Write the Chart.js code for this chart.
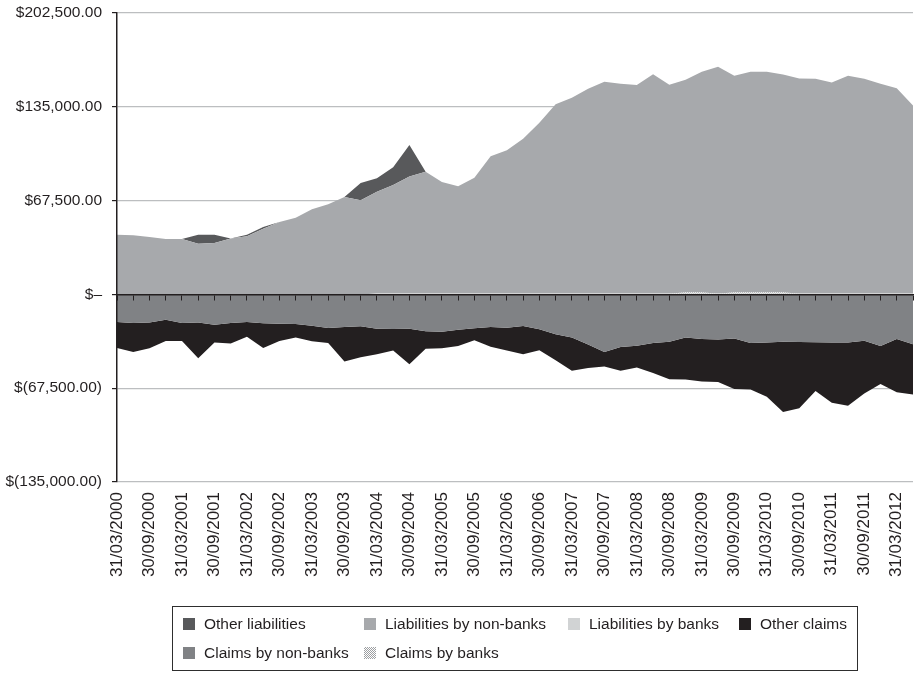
<!DOCTYPE html>
<html>
<head>
<meta charset="utf-8">
<script src="https://cdn.jsdelivr.net/npm/chart.js@4.4.1/dist/chart.umd.min.js"></script>
<style>
html,body{margin:0;padding:0;background:#fff;}
#wrap{position:relative;width:914px;height:675px;}
#c{position:absolute;left:0;top:0;}
#legend{position:absolute;left:172px;top:606px;width:684px;height:63px;border:1px solid #2e2e2e;
  font-family:'Liberation Sans',Arial,sans-serif;font-size:15.5px;color:#231f20;}
#legend .grid{position:absolute;left:10px;top:6px;display:grid;grid-template-columns:181px 204px 171px auto;row-gap:7px;}
#legend .item{display:flex;align-items:center;height:22px;white-space:nowrap;}
#legend .sw{width:12px;height:12px;margin-right:9px;flex:none;}
#legend .hatch{background:repeating-conic-gradient(#9d9fa2 0 25%,#ffffff 0 50%) 0 0/2px 2px;}
</style>
</head>
<body>
<div id="wrap">
<canvas id="c" width="914" height="675"></canvas>
<div id="legend"><div class="grid" id="lgrid"></div></div>
</div>
<script>
// ---- data ----
const quarters = [
 '31/03/2000','30/06/2000','30/09/2000','31/12/2000',
 '31/03/2001','30/06/2001','30/09/2001','31/12/2001',
 '31/03/2002','30/06/2002','30/09/2002','31/12/2002',
 '31/03/2003','30/06/2003','30/09/2003','31/12/2003',
 '31/03/2004','30/06/2004','30/09/2004','31/12/2004',
 '31/03/2005','30/06/2005','30/09/2005','31/12/2005',
 '31/03/2006','30/06/2006','30/09/2006','31/12/2006',
 '31/03/2007','30/06/2007','30/09/2007','31/12/2007',
 '31/03/2008','30/06/2008','30/09/2008','31/12/2008',
 '31/03/2009','30/06/2009','30/09/2009','31/12/2009',
 '31/03/2010','30/06/2010','30/09/2010','31/12/2010',
 '31/03/2011','30/06/2011','30/09/2011','31/12/2011',
 '31/03/2012','30/06/2012'
];
const otherLiabilities = [
 0,0,0,0,0,6500,6000,0,1200,1200,
 0,0,0,0,0,12500,9800,12700,22800,0,
 0,0,0,0,0,0,0,0,0,0,
 0,0,0,0,0,0,0,0,0,0,
 0,0,0,0,0,0,0,0,0,0
];
const liabilitiesNonBanks = [
 43000,42500,41300,39800,39800,36500,37000,40300,41800,47300,
 52100,55200,61200,64800,70100,67700,73200,78200,84200,87600,
 80200,77300,83300,98900,103200,111400,122900,136300,140900,147400,
 152400,151000,150000,157900,150200,153100,158900,163200,156000,158900,
 158900,157000,154800,154600,151900,156700,154600,151000,147800,135400
];
const liabilitiesBanks = [
 0,0,0,0,0,0,0,0,0,0,
 0,0,0,0,0,0,600,600,600,600,
 600,600,600,600,600,600,600,600,600,600,
 600,600,600,600,600,600,600,600,600,600,
 600,600,600,600,600,600,600,600,600,600
];
const otherClaims = [
 -18600,-20800,-18500,-15300,-12900,-25700,-12900,-14800,-10500,-17700,
 -12400,-9800,-11200,-10700,-24900,-22200,-18400,-15500,-25600,-12600,
 -12000,-11700,-8600,-14200,-16300,-20400,-15100,-18700,-23900,-16800,
 -10500,-17200,-15700,-21600,-27000,-30100,-30600,-30500,-36200,-33500,
 -39000,-50700,-47700,-35100,-43300,-45500,-38000,-27300,-38300,-36100
];
const claimsNonBanks = [
 -19900,-20600,-20300,-18200,-20600,-20300,-21800,-20600,-19900,-20800,
 -21100,-21300,-22500,-24200,-23400,-23000,-24700,-24900,-24700,-26600,
 -26800,-25400,-24400,-23400,-24000,-22700,-25100,-28700,-31100,-36100,
 -41400,-37800,-36900,-34900,-34000,-31100,-32100,-32500,-31800,-34900,
 -34700,-34000,-34200,-34500,-34700,-34700,-33300,-37100,-32100,-35900
];
const claimsBanks = [
 0,0,0,0,0,0,0,0,0,0,
 0,0,0,0,0,0,0,0,0,0,
 0,0,0,0,0,0,0,0,0,0,
 0,0,0,0,0,700,700,0,700,700,
 700,700,0,0,0,0,0,0,0,0
];
const yMin = -135000, yMax = 202500, yStep = 67500;
const yTickLabels = ['$(135,000.00)','$(67,500.00)','$\u2013','$67,500.00','$135,000.00','$202,500.00'];
const legendOrder = ['Other liabilities','Liabilities by non-banks','Liabilities by banks','Other claims','Claims by non-banks','Claims by banks'];

// ---- styles ----
const FONT = "'Liberation Sans', Arial, sans-serif";
const INK = '#231f20';
const canvas = document.getElementById('c');
const ctx = canvas.getContext('2d');
function hatchPattern(){
  const p = document.createElement('canvas'); p.width = 2; p.height = 2;
  const g = p.getContext('2d');
  g.fillStyle = '#ffffff'; g.fillRect(0,0,2,2);
  g.fillStyle = '#9d9fa2'; g.fillRect(0,0,1,1); g.fillRect(1,1,1,1);
  return ctx.createPattern(p, 'repeat');
}
function ds(label, data, color, stack, fill){
  return {label, data, backgroundColor: color, borderColor: 'rgba(0,0,0,0)', borderWidth: 0,
    pointRadius: 0, pointHoverRadius: 0, fill, stack, tension: 0, xAxisID: 'x', yAxisID: 'y'};
}

const chart = new Chart(ctx, {
  type: 'line',
  data: {
    labels: quarters,
    datasets: [
      ds('Liabilities by banks', liabilitiesBanks, '#d1d3d4', 'pos', 'origin'),
      ds('Claims by banks', claimsBanks, hatchPattern(), 'pos', '-1'),
      ds('Liabilities by non-banks', liabilitiesNonBanks, '#a7a9ac', 'pos', '-1'),
      ds('Other liabilities', otherLiabilities, '#58595b', 'pos', '-1'),
      ds('Claims by non-banks', claimsNonBanks, '#808285', 'neg', 'origin'),
      ds('Other claims', otherClaims, INK, 'neg', '-1')
    ]
  },
  options: {
    responsive: false,
    animation: false,
    devicePixelRatio: 1,
    layout: {padding: {top: 13, right: 1, bottom: 0, left: 0}},
    plugins: {legend: {display: false}, tooltip: {enabled: false}, title: {display: false}},
    scales: {
      x: {
        type: 'category', position: 'bottom', offset: false,
        grid: {display: false, drawTicks: false},
        border: {display: false},
        ticks: {autoSkip: false, minRotation: 90, maxRotation: 90, padding: 10, color: INK,
          font: {family: FONT, size: 17},
          callback: (v, i) => (i % 2 === 0 ? quarters[i] : '')},
        afterFit: (s) => { s.height = 193; s.paddingLeft = 0; s.paddingRight = 0; }
      },
      x0: {
        type: 'category', position: {y: 0}, offset: false,
        grid: {display: true, drawOnChartArea: false, drawTicks: true, tickLength: 5, tickColor: INK, lineWidth: 1, z: 1},
        border: {display: true, color: INK, width: 1.5, z: 1},
        ticks: {display: false, autoSkip: false},
        afterFit: (s) => { s.paddingLeft = 0; s.paddingRight = 0; s.paddingTop = 0; s.paddingBottom = 0; }
      },
      y: {
        type: 'linear', position: 'left', stacked: true, min: yMin, max: yMax,
        ticks: {stepSize: yStep, padding: 10, color: INK, font: {family: FONT, size: 15.5},
          callback: (v) => yTickLabels[Math.round((v - yMin) / yStep)]},
        grid: {color: '#bcbec0', lineWidth: 1.2, drawTicks: true, tickLength: 5, tickColor: INK},
        border: {display: true, color: INK, width: 1.5, z: 1},
        afterFit: (s) => { s.width = 117; s.paddingTop = 0; s.paddingBottom = 0; }
      }
    }
  }
});

// ---- HTML legend built from the chart's datasets ----
const lgrid = document.getElementById('lgrid');
legendOrder.forEach((name) => {
  const d = chart.data.datasets.find((x) => x.label === name);
  const item = document.createElement('div'); item.className = 'item';
  const sw = document.createElement('span'); sw.className = 'sw';
  if (typeof d.backgroundColor === 'string') sw.style.background = d.backgroundColor;
  else sw.classList.add('hatch');
  const t = document.createElement('span'); t.textContent = name;
  item.appendChild(sw); item.appendChild(t);
  lgrid.appendChild(item);
});
</script>
</body>
</html>
